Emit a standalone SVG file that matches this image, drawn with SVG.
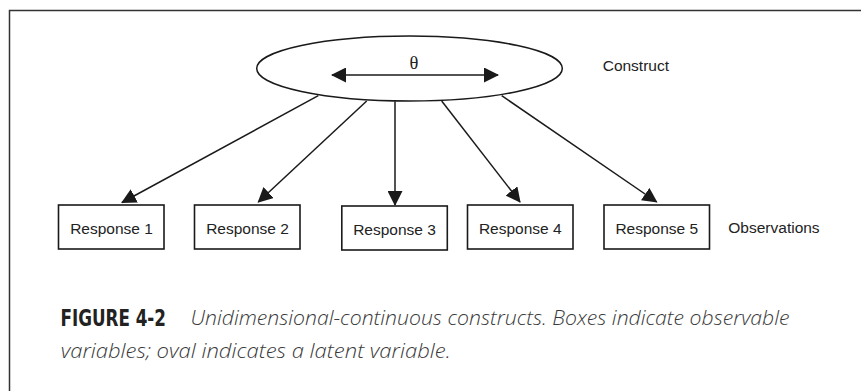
<svg xmlns="http://www.w3.org/2000/svg" width="861" height="391" viewBox="0 0 861 391">
<style>
.ln{stroke:#1a1a1a;stroke-width:1.5;fill:none}
.box{fill:#fff;stroke:#1a1a1a;stroke-width:1.6}
.lbl{font-family:"Liberation Sans",Arial,sans-serif;font-size:15.5px;fill:#222}
.cap{font-family:"Open Sans","Liberation Sans",sans-serif;font-style:italic;font-weight:300;font-size:20px;fill:#3a3a3a}
.fig{font-family:"Liberation Sans Narrow","DejaVu Sans Condensed","Liberation Sans",sans-serif;font-weight:bold;font-size:22.5px;fill:#222}
</style>
<defs>
<marker id="ah" markerUnits="userSpaceOnUse" markerWidth="15" markerHeight="15" viewBox="0 0 15 15" refX="14" refY="7.5" orient="auto">
<path d="M0,0 L15,7.5 L0,15 Z" fill="#1a1a1a"/>
</marker>
<marker id="ahs" markerUnits="userSpaceOnUse" markerWidth="15" markerHeight="15" viewBox="0 0 15 15" refX="1" refY="7.5" orient="auto">
<path d="M15,0 L0,7.5 L15,15 Z" fill="#1a1a1a"/>
</marker>
</defs>
<rect x="0" y="0" width="861" height="391" fill="#fff"/>
<rect x="9.5" y="10.5" width="900" height="450" fill="none" stroke="#333" stroke-width="1.5"/>

<g id="construct">
<ellipse cx="409.5" cy="68.5" rx="152.8" ry="32.5" class="ln" fill="#fff"/>
<line x1="332" y1="75" x2="498" y2="75" class="ln" stroke-width="2" marker-start="url(#ahs)" marker-end="url(#ah)"/>
<text x="414" y="68.5" text-anchor="middle" font-family="Liberation Serif,serif" font-size="18.5" fill="#222">θ</text>
</g>
<g id="construct-label"><text x="602.7" y="71" class="lbl" font-size="15.7">Construct</text></g>

<g id="connectors">
<line x1="318.3" y1="95.7" x2="122" y2="202.5" class="ln" marker-end="url(#ah)"/>
<line x1="366.7" y1="101" x2="258.3" y2="202" class="ln" marker-end="url(#ah)"/>
<line x1="395" y1="101.5" x2="395" y2="205" class="ln" marker-end="url(#ah)"/>
<line x1="441.7" y1="101" x2="520" y2="202" class="ln" marker-end="url(#ah)"/>
<line x1="501.7" y1="95.7" x2="656.7" y2="202" class="ln" marker-end="url(#ah)"/>
</g>

<g id="response1"><rect x="58.5" y="205" width="105.5" height="44" class="box"/><text x="111.5" y="234" text-anchor="middle" class="lbl">Response 1</text></g>
<g id="response2"><rect x="194.5" y="205" width="105.5" height="44" class="box"/><text x="247.5" y="234" text-anchor="middle" class="lbl">Response 2</text></g>
<g id="response3"><rect x="341.8" y="206" width="105.5" height="44" class="box"/><text x="394.5" y="235" text-anchor="middle" class="lbl">Response 3</text></g>
<g id="response4"><rect x="467.5" y="205" width="105.5" height="44" class="box"/><text x="520.3" y="234" text-anchor="middle" class="lbl">Response 4</text></g>
<g id="response5"><rect x="604" y="205" width="105.5" height="44" class="box"/><text x="656.8" y="234" text-anchor="middle" class="lbl">Response 5</text></g>
<g id="observations-label"><text x="728.3" y="232.5" class="lbl" font-size="15.7">Observations</text></g>

<g id="caption">
<text x="60.5" y="325.5" class="fig" textLength="105.5" lengthAdjust="spacingAndGlyphs">FIGURE 4-2</text>
<text x="190.5" y="325" class="cap" textLength="599" lengthAdjust="spacingAndGlyphs">Unidimensional-continuous constructs. Boxes indicate observable</text>
<text x="60.7" y="357.5" class="cap" textLength="390" lengthAdjust="spacingAndGlyphs">variables; oval indicates a latent variable.</text>
</g>
</svg>
